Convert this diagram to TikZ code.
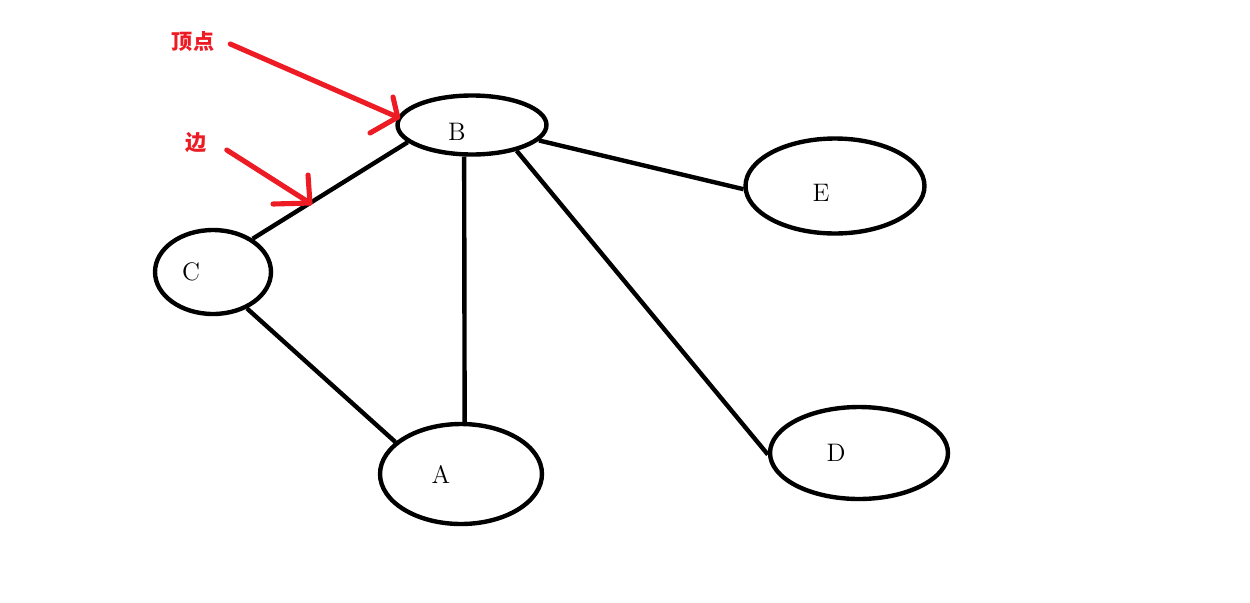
\documentclass[tikz,border=0pt]{standalone}
\usepackage{fontspec}
\newfontfamily\cjk{Noto Sans CJK SC}
\usetikzlibrary{shapes.geometric,calc}
\definecolor{paintred}{RGB}{237,28,36}
\tikzset{
  vertex/.style={ellipse,draw,line width=2.5pt,inner sep=0pt},
  edge/.style={line width=2.5pt},
  note/.style={paintred,line width=2.9pt,line cap=round,line join=round},
  notetext/.style={text=paintred,font=\cjk\large\bfseries}
}
\begin{document}
\begin{tikzpicture}[x=0.02cm,y=-0.02cm]
    \useasboundingbox (0,0) rectangle (1250,602);
    \node[vertex,minimum width=2.98cm,minimum height=1.18cm,label={[xshift=-0.3cm,yshift=-0.14cm]center:\Large B}] (B) at (472,125) {};
    \node[vertex,minimum width=3.58cm,minimum height=1.90cm,label={[xshift=-0.28cm,yshift=-0.14cm]center:\Large E}] (E) at (835,186) {};
    \node[vertex,minimum width=2.32cm,minimum height=1.68cm,label={[xshift=-0.44cm]center:\Large C}] (C) at (213,272) {};
    \node[vertex,minimum width=3.24cm,minimum height=2.00cm,label={[xshift=-0.4cm]center:\Large A}] (A) at (461,474) {};
    \node[vertex,minimum width=3.56cm,minimum height=1.84cm,label={[xshift=-0.46cm]center:\Large D}] (D) at (859,453) {};
    % edges
    \draw[edge] (B.195) -- (C.40) coordinate[pos=0.63] (edgetip);
    \draw[edge] (B.256) -- (A.86);
    \draw[edge] (B.-13) -- (E.182);
    \draw[edge] (B.-30) -- (D.181);
    \draw[edge] (C.313) -- (A.154);
    % notes
    \node[notetext] (vtxlabel) at (193,42) {顶点};
    \node[notetext] (edgelabel) at (196,143) {边};
    \coordinate (vtxtip) at (B.174);
    \draw[note] ($(vtxlabel.east)+(10,2)$) -- (vtxtip);
    \draw[note] (393,97) -- (vtxtip) -- (370,133);
    \draw[note] ($(edgelabel.east)+(14,7)$) -- (edgetip);
    \draw[note] (308,175) -- (edgetip) -- (273,204);
\end{tikzpicture}
\end{document}
